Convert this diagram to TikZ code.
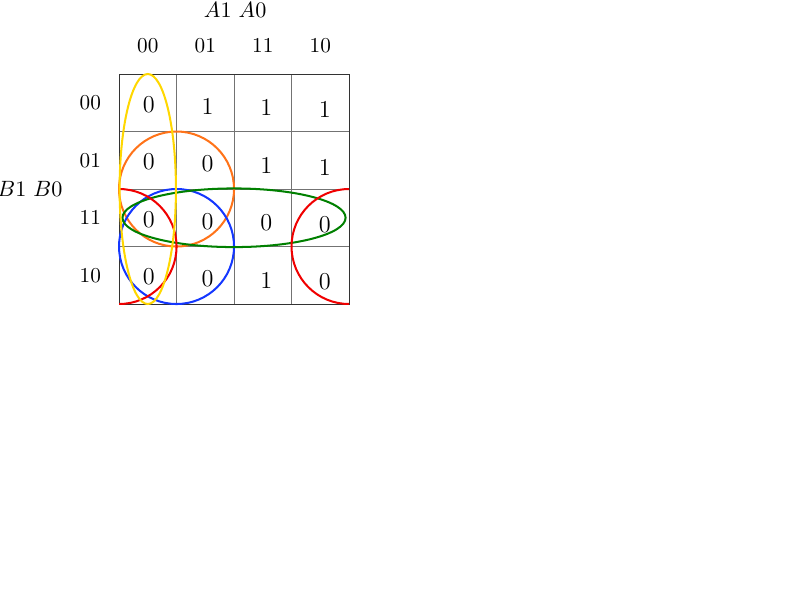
\documentclass[tikz,border=0pt]{standalone}
\usepackage{amsmath}
\usepackage{amssymb}
\usepackage{tikz}
\usetikzlibrary{positioning}

\definecolor{loopyellow}{RGB}{255,215,0}
\definecolor{looporange}{RGB}{255,115,25}
\definecolor{loopblue}{RGB}{20,55,255}
\definecolor{loopgreen}{RGB}{0,128,0}
\definecolor{loopred}{RGB}{240,0,0}

\begin{document}
\begin{tikzpicture}[line width=0.4pt]
	\useasboundingbox (-2.07,-5.148) rectangle (11.843,5.287);
	\tikzset{every node/.style={inner sep=1pt,font=\fontsize{10.5}{12}\selectfont}}
	\tikzset{cell/.style={font=\fontsize{12}{14}\selectfont}}
	\tikzset{kloop/.style={line width=1pt}}
	% grid
	\draw[black!55,line width=0.5pt] (0,0) grid (4,4);
	\draw[black!80,line width=0.5pt] (0,0) rectangle (4,4);
	% variable names and headers
	\node (A) at (2.02,5.11) {$A1\ A0$};
	\node (B) at (-1.55,2) {$B1\ B0$};
	\foreach \t [count=\i] in {00,01,11,10} {
		\node (col\i) at (\i-0.5,4.49) {\t};
		\node (row\i) at (-0.5,4.5-\i) {\t};
	}
	% groups
	\draw[kloop,looporange] (1,2) circle (1);
	\draw[kloop,loopblue] (1,1) circle (1);
	\draw[kloop,loopgreen] (2,1.5) ellipse (1.94 and 0.51);
	\begin{scope}
		\clip (0,0) rectangle (4,4);
		\draw[kloop,loopred] (0,1) circle (1);
		\draw[kloop,loopred] (4,1) circle (1);
	\end{scope}
	\draw[kloop,loopyellow] (0.5,2) ellipse (0.49 and 2);
	% cell values
	\foreach \row [count=\j] in {{0,1,1,1},{0,0,1,1},{0,0,0,0},{0,0,1,0}}
		\foreach \v [count=\i] in \row
			\node[cell] (c\j\i) at (\i-0.5+0.02*\i,4.5-\j-0.03*\i) {\v};
\end{tikzpicture}
\end{document}
